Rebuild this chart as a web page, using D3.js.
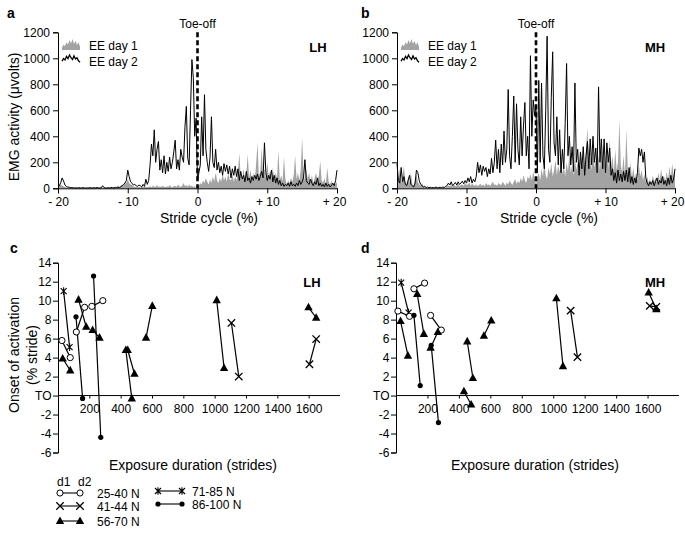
<!DOCTYPE html>
<html><head><meta charset="utf-8">
<script src="https://cdn.jsdelivr.net/npm/d3@7"></script>
<style>body{margin:0;background:#fff}svg text{font-family:"Liberation Sans",Arial,sans-serif;fill:#000}</style>
</head><body><svg id="fig" width="685" height="543"></svg>
<script>
// ---------- data ----------
const strideStep = 0.2;                 // % stride between samples, -20 .. +20
const strideTicks = [-20, -10, 0, 10, 20];
const strideTickLabels = ["- 20", "- 10", "0", "+ 10", "+ 20"];
const emgTicks = [0, 200, 400, 600, 800, 1000, 1200];

const lhDay1 = [
 15,25,30,20,15,10,8,6,5,10,
 4,6,3,8,5,3,6,4,10,5,
 3,4,6,3,5,8,4,6,3,5,
 8,4,6,3,5,4,8,5,3,6,
 10,5,8,15,10,20,25,30,35,40,
 70,40,30,25,15,10,10,8,12,6,
 10,8,15,10,8,10,15,8,20,12,
 10,25,8,15,10,20,12,8,15,10,
 25,12,8,15,20,10,30,15,10,20,
 40,15,25,10,30,15,20,10,15,5,
 0,20,40,30,60,40,80,50,30,70,
 40,90,50,120,60,40,80,50,110,60,
 90,50,120,70,60,110,50,90,60,130,
 270,80,60,150,70,110,260,80,140,70,
 120,60,180,350,90,130,310,100,150,80,
 200,90,130,70,160,60,120,80,290,60,
 100,50,240,70,30,60,40,80,50,100,
 250,70,120,60,140,390,110,60,150,70,
 120,50,100,40,80,120,60,100,210,60,
 40,80,30,160,50,30,60,20,40,30,
 50];
const lhDay2 = [
 10,20,45,80,55,25,15,10,8,5,
 5,3,4,2,3,5,2,3,4,2,
 3,2,3,5,3,2,4,3,6,3,
 2,4,20,5,3,2,4,3,6,4,
 3,8,5,10,6,12,20,30,40,60,
 140,90,50,40,25,30,20,15,25,20,
 10,30,15,70,30,60,180,340,250,450,
 200,300,360,140,220,120,250,110,200,130,
 240,150,200,280,370,150,220,140,300,240,
 200,470,630,230,180,600,990,850,400,540,
 60,120,180,550,250,720,300,200,130,240,
 550,200,160,300,140,200,120,170,100,190,
 130,180,110,170,80,150,100,170,90,150,
 60,130,70,100,50,130,60,80,40,90,
 60,100,70,110,60,90,130,80,350,120,
 60,100,70,140,50,100,40,80,30,60,
 20,40,15,30,20,40,15,50,20,30,
 15,40,20,60,30,50,80,220,60,40,
 30,70,40,20,50,30,80,20,40,15,
 30,10,40,15,30,10,20,40,20,60,
 140];
const mhDay1 = [
 120,60,150,40,100,170,50,30,80,40,
 120,30,20,60,100,50,30,20,40,15,
 10,5,3,6,4,8,3,5,10,4,
 6,3,8,5,10,6,12,20,15,25,
 10,30,15,20,35,15,25,30,20,40,
 25,30,45,20,35,25,20,30,15,25,
 35,20,30,15,40,25,30,20,35,50,
 25,30,20,40,30,25,50,35,20,45,
 30,60,40,25,50,70,35,55,40,80,
 50,100,60,40,90,70,110,60,130,80,
 30,80,120,60,150,90,200,100,70,160,
 110,190,90,140,220,100,180,120,250,110,
 170,90,200,130,260,120,180,100,230,140,
 200,110,280,150,210,130,300,470,180,250,
 140,330,160,220,120,260,140,300,160,240,
 130,280,150,380,170,250,120,300,140,200,
 530,180,120,250,100,450,150,90,200,80,
 160,70,120,60,180,90,140,60,110,50,
 90,40,70,30,100,50,80,40,120,60,
 150,70,100,50,130,60,170,80,190,90,
 120];
const mhDay2 = [
 190,60,40,160,50,90,30,20,60,100,
 30,20,10,40,140,120,60,30,20,10,
 15,5,10,4,8,3,6,5,10,4,
 6,8,5,10,6,15,20,40,25,50,
 20,30,45,25,50,30,40,55,35,60,
 40,80,50,90,40,70,50,90,200,120,
 180,100,170,130,160,90,150,110,230,120,
 200,370,150,300,120,340,180,440,200,300,
 760,250,150,400,710,200,650,300,180,550,
 250,480,660,250,400,150,1020,400,680,560,
 630,120,830,200,810,250,150,600,1170,300,
 200,700,1050,350,250,550,180,450,120,300,
 150,500,960,250,400,180,320,130,810,200,
 300,100,280,150,320,100,250,360,150,380,
 180,400,200,310,120,780,200,380,150,380,
 120,350,200,310,100,150,60,120,40,140,
 60,110,50,130,60,140,50,160,40,90,
 30,80,40,120,310,250,300,200,280,80,
 40,20,50,30,60,20,50,80,30,60,
 40,90,30,60,20,80,30,100,40,70,
 150];

// legend glyph shapes (relative heights)
const legendGlyphArea = [0.2,0.5,0.35,0.7,0.5,0.9,0.6,1,0.55,0.85,0.45,0.7,0.3];
const legendGlyphLine = [0.3,0.6,0.45,0.85,0.6,1,0.7,0.5,0.9,0.55,0.7,0.35,0.2];

// onset panels
const exposureTicks = [200, 400, 600, 800, 1000, 1200, 1400, 1600];
const onsetTicks = [14, 12, 10, 8, 6, 4, 2, 0, -2, -4, -6];
const groupNames = ["25-40 N", "41-44 N", "56-70 N", "71-85 N", "86-100 N"];
const groupMarkers = ["circle", "cross", "triangle", "asterisk", "dot"];

// [group, exposure d1, onset d1, exposure d2, onset d2]
const lhPairs = [
 [0, 25, 5.8, 78, 4.0], [0, 117, 6.7, 170, 9.3], [0, 216, 9.4, 286, 10.0],
 [3, 36, 11.0, 74, 5.1],
 [2, 30, 3.9, 78, 2.65], [2, 131, 10.1, 180, 7.25], [2, 221, 6.9, 265, 6.1],
 [2, 433, 4.8, 471, -0.3], [2, 445, 4.8, 488, 2.3], [2, 562, 6.1, 602, 9.45],
 [2, 1013, 10.05, 1060, 2.9], [2, 1599, 9.3, 1648, 8.2],
 [4, 115, 8.3, 157, -0.3], [4, 227, 12.6, 273, -4.4],
 [1, 1107, 7.65, 1154, 2.0], [1, 1605, 3.3, 1648, 5.95]
];
const mhPairs = [
 [3, 33, 11.9, 80, 8.75],
 [0, 12, 8.9, 86, 8.35], [0, 114, 11.25, 182, 11.85], [0, 220, 8.45, 288, 6.9],
 [2, 29, 7.85, 76, 4.2], [2, 135, 10.7, 177, 6.5], [2, 220, 5.05, 266, 6.7],
 [2, 453, 5.7, 489, 1.85], [2, 432, 0.45, 478, -0.95], [2, 559, 6.3, 606, 7.9],
 [2, 1020, 10.25, 1062, 3.1], [2, 1607, 10.85, 1656, 9.1],
 [4, 114, 8.45, 154, 1.05], [4, 224, 5.3, 270, -2.85],
 [1, 1111, 8.95, 1154, 4.05], [1, 1614, 9.45, 1656, 9.35]
];

// ---------- drawing ----------
const svg = d3.select("#fig");
const GRAY = "#a3a3a3";

function label(g, x, y, txt, opts = {}) {
  return g.append("text").attr("x", x).attr("y", y).text(txt)
    .attr("font-size", opts.size || 12)
    .attr("font-weight", opts.bold ? "bold" : null)
    .attr("text-anchor", opts.anchor || "start");
}

function styleAxis(a) {
  a.select(".domain").attr("stroke", "#000").attr("stroke-width", 1);
  a.selectAll(".tick line").attr("stroke", "#000");
  a.selectAll("text").attr("font-size", 12).attr("font-family", '"Liberation Sans",Arial,sans-serif').attr("fill", "#000");
}

function emgPanel(opt) {
  const g = svg.append("g");
  const x = d3.scaleLinear().domain([-20, 20]).range([opt.x0, opt.x1]);
  const y = d3.scaleLinear().domain([0, 1200]).range([188.3, 32.3]);
  const sx = (d, i) => x(-20 + i * strideStep);

  g.append("path").datum(opt.day1)
    .attr("d", d3.area().x(sx).y0(y(0)).y1(d => y(d)))
    .attr("fill", GRAY);
  g.append("path").datum(opt.day2)
    .attr("d", d3.line().x(sx).y(d => y(d)))
    .attr("fill", "none").attr("stroke", "#000").attr("stroke-width", 1);

  const ya = g.append("g").attr("transform", `translate(${opt.x0},0)`)
    .call(d3.axisLeft(y).tickValues(emgTicks).tickSize(5).tickPadding(3).tickFormat(d3.format("d")));
  const xa = g.append("g").attr("transform", `translate(0,${y(0)})`)
    .call(d3.axisBottom(x).tickValues(strideTicks).tickSize(5).tickPadding(4)
      .tickFormat((d, i) => strideTickLabels[i]));
  styleAxis(ya); styleAxis(xa);
  xa.selectAll(".tick text").filter(d => d === 20).attr("dx", -3);

  // toe-off dashed line
  g.append("line").attr("x1", x(0)).attr("x2", x(0)).attr("y1", y(1200)).attr("y2", y(0))
    .attr("stroke", "#000").attr("stroke-width", 2.6).attr("stroke-dasharray", "5,3");
  label(g, x(0), 28, "Toe-off", { anchor: "middle" });

  // legend
  const lx = d3.scaleLinear().domain([0, legendGlyphArea.length - 1]).range([opt.x0 + 4, opt.x0 + 22]);
  g.append("path").datum(legendGlyphArea)
    .attr("d", d3.area().x((d, i) => lx(i)).y0(50).y1(d => 50 - d * 11)).attr("fill", GRAY);
  g.append("path").datum(legendGlyphLine)
    .attr("d", d3.line().x((d, i) => lx(i)).y(d => 64 - d * 9))
    .attr("fill", "none").attr("stroke", "#000").attr("stroke-width", 1.3);
  label(g, opt.x0 + 31, 50, "EE day 1");
  label(g, opt.x0 + 31, 66, "EE day 2");

  label(g, opt.tagX, 52, opt.tag, { bold: true, size: 13, anchor: "middle" });
  label(g, opt.letterX, 18, opt.letter, { bold: true, size: 14 });
  label(g, opt.titleX, 223, "Stride cycle (%)", { size: 14, anchor: "middle" });
  if (opt.ytitle) {
    g.append("text").attr("transform", "translate(19,117) rotate(-90)")
      .attr("text-anchor", "middle").attr("font-size", 14).text("EMG activity (\u03bcvolts)");
  }
}

function drawMarker(g, type, cx, cy) {
  if (type === "circle") {
    g.append("circle").attr("cx", cx).attr("cy", cy).attr("r", 3.1)
      .attr("fill", "#fff").attr("stroke", "#000").attr("stroke-width", 1);
  } else if (type === "dot") {
    g.append("circle").attr("cx", cx).attr("cy", cy).attr("r", 2.6).attr("fill", "#000");
  } else if (type === "triangle") {
    g.append("path").attr("d", `M${cx},${cy - 4.6}L${cx + 4.2},${cy + 3}L${cx - 4.2},${cy + 3}Z`).attr("fill", "#000");
  } else if (type === "cross") {
    const s = 3.7;
    g.append("path").attr("d", `M${cx - s},${cy - s}L${cx + s},${cy + s}M${cx - s},${cy + s}L${cx + s},${cy - s}`)
      .attr("stroke", "#000").attr("stroke-width", 1.3);
  } else if (type === "asterisk") {
    const s = 3;
    g.append("path").attr("d", `M${cx - s},${cy - s}L${cx + s},${cy + s}M${cx - s},${cy + s}L${cx + s},${cy - s}M${cx},${cy - s - 0.8}L${cx},${cy + s + 0.8}`)
      .attr("stroke", "#000").attr("stroke-width", 1.1);
  }
}

function onsetPanel(opt) {
  const g = svg.append("g");
  const x = d3.scaleLinear().domain([0, 1800]).range([opt.x0, opt.x1]);
  const y = d3.scaleLinear().domain([-6, 14]).range([452.5, 262.7]);

  const ya = g.append("g").attr("transform", `translate(${opt.x0},0)`)
    .call(d3.axisLeft(y).tickValues(onsetTicks).tickSize(5).tickPadding(1.5)
      .tickFormat(d => d === 0 ? "TO" : String(d)));
  const xa = g.append("g").attr("transform", `translate(0,${y(0)})`)
    .call(d3.axisBottom(x).tickValues(exposureTicks).tickSize(3).tickPadding(6).tickFormat(d3.format("d")));
  styleAxis(ya); styleAxis(xa);
  xa.select(".domain").attr("d", `M${opt.x0},0H${opt.x1}`);

  const pg = g.append("g");
  opt.pairs.forEach(p => {
    pg.append("line").attr("x1", x(p[1])).attr("y1", y(p[2])).attr("x2", x(p[3])).attr("y2", y(p[4]))
      .attr("stroke", "#000").attr("stroke-width", 1.2);
  });
  opt.pairs.forEach(p => {
    drawMarker(pg, groupMarkers[p[0]], x(p[1]), y(p[2]));
    drawMarker(pg, groupMarkers[p[0]], x(p[3]), y(p[4]));
  });

  label(g, opt.tagX, 287, opt.tag, { bold: true, size: 13, anchor: "middle" });
  label(g, opt.letterX, 253, opt.letter, { bold: true, size: 14 });
  label(g, opt.titleX, 470, "Exposure duration (strides)", { size: 14, anchor: "middle" });
  if (opt.ytitle) {
    g.append("text").attr("transform", "translate(19,355) rotate(-90)")
      .attr("text-anchor", "middle").attr("font-size", 14).text("Onset of activation");
    g.append("text").attr("transform", "translate(37,355) rotate(-90)")
      .attr("text-anchor", "middle").attr("font-size", 14).text("(% stride)");
  }
}

emgPanel({ x0: 58, x1: 337, day1: lhDay1, day2: lhDay2, tag: "LH", tagX: 318, letter: "a", letterX: 7, titleX: 209, ytitle: true });
emgPanel({ x0: 397, x1: 675, day1: mhDay1, day2: mhDay2, tag: "MH", tagX: 655, letter: "b", letterX: 361, titleX: 549, ytitle: false });
onsetPanel({ x0: 58, x1: 340, pairs: lhPairs, tag: "LH", tagX: 312, letter: "c", letterX: 10, titleX: 193, ytitle: true });
onsetPanel({ x0: 396, x1: 679, pairs: mhPairs, tag: "MH", tagX: 655, letter: "d", letterX: 361, titleX: 535, ytitle: false });

// bottom legend
const lg = svg.append("g");
label(lg, 57, 486, "d1");
label(lg, 78, 486, "d2");
const legendRows = [
  { gi: 0, x1: 60, x2: 80, tx: 97, y: 493 },
  { gi: 1, x1: 60, x2: 80, tx: 97, y: 506 },
  { gi: 2, x1: 60, x2: 80, tx: 97, y: 521 },
  { gi: 3, x1: 158, x2: 182, tx: 192, y: 491 },
  { gi: 4, x1: 158, x2: 182, tx: 192, y: 504 }
];
legendRows.forEach(r => {
  lg.append("line").attr("x1", r.x1).attr("x2", r.x2).attr("y1", r.y).attr("y2", r.y)
    .attr("stroke", "#000").attr("stroke-width", 1.1);
  drawMarker(lg, groupMarkers[r.gi], r.x1, r.y);
  drawMarker(lg, groupMarkers[r.gi], r.x2, r.y);
  label(lg, r.tx, r.y + 4.5, groupNames[r.gi]);
});
</script></body></html>
